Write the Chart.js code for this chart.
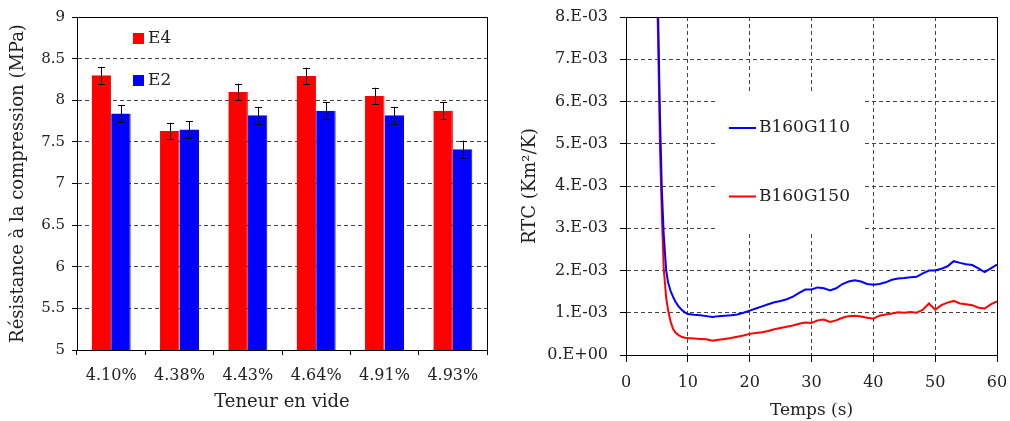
<!DOCTYPE html>
<html>
<head>
<meta charset="utf-8">
<script src="https://cdn.jsdelivr.net/npm/chart.js@4"></script>
<style>
  body { margin: 0; background: #fff; }
  #wrap { position: relative; width: 1010px; height: 421px; background: #fff; }
  canvas { position: absolute; top: 0; }
</style>
</head>
<body>
<div id="wrap">
  <canvas id="barChart" width="505" height="421" style="left:0"></canvas>
  <canvas id="lineChart" width="505" height="421" style="left:505px"></canvas>
</div>
<script>
// ---- left chart data ----
const voidContent = ["4.10%", "4.38%", "4.43%", "4.64%", "4.91%", "4.93%"];
const strengthE4 = [8.30, 7.63, 8.10, 8.29, 8.05, 7.875];
const strengthE2 = [7.84, 7.65, 7.82, 7.875, 7.82, 7.41];
const errorE4 = [0.10, 0.10, 0.10, 0.10, 0.10, 0.10];
const errorE2 = [0.10, 0.10, 0.10, 0.10, 0.10, 0.105];

// ---- right chart data (RTC in 1E-03 Km2/K) ----
const time = [4.9, 5.2, 5.5, 5.8, 6.1, 6.5, 6.8, 7.2, 7.6, 8.0, 8.5, 9.0, 9.5,
  10, 11, 12, 13, 14, 15, 16, 17, 18, 19, 20, 21, 22, 23, 24, 25, 26, 27, 28, 29,
  30, 31, 32, 33, 34, 35, 36, 37, 38, 39, 40, 41, 42, 43, 44, 45, 46, 47, 48, 49,
  50, 51, 52, 53, 54, 55, 56, 57, 58, 59, 60];
const rtcB160G110 = [9.5, 8.0, 5.6, 3.9, 2.85, 2.0, 1.72, 1.52, 1.38, 1.26, 1.15, 1.07, 1.01,
  0.97, 0.95, 0.94, 0.92, 0.90, 0.92, 0.93, 0.94, 0.96, 1.00, 1.05, 1.10, 1.15, 1.20, 1.25, 1.28, 1.32, 1.38, 1.47, 1.55,
  1.55, 1.60, 1.58, 1.53, 1.58, 1.68, 1.74, 1.77, 1.74, 1.68, 1.66, 1.68, 1.72, 1.78, 1.81, 1.82, 1.84, 1.85, 1.93, 2.00,
  2.00, 2.04, 2.10, 2.22, 2.18, 2.15, 2.13, 2.05, 1.96, 2.05, 2.14];
const rtcB160G150 = [9.5, 7.4, 4.9, 3.3, 2.05, 1.35, 1.07, 0.80, 0.62, 0.53, 0.47, 0.43, 0.41,
  0.40, 0.39, 0.38, 0.37, 0.34, 0.36, 0.38, 0.40, 0.43, 0.46, 0.50, 0.52, 0.54, 0.57, 0.61, 0.64, 0.67, 0.70, 0.74, 0.77,
  0.76, 0.82, 0.84, 0.78, 0.82, 0.88, 0.92, 0.93, 0.91, 0.88, 0.86, 0.93, 0.96, 0.98, 1.01, 1.00, 1.02, 1.00, 1.07, 1.22,
  1.07, 1.18, 1.24, 1.28, 1.22, 1.20, 1.18, 1.12, 1.10, 1.20, 1.27];

const FONT = "'DejaVu Serif', serif";
const TEXT = "#222";
const GRID = "#444";

// frame round the plot area
const framePlugin = {
  id: "frame",
  afterDatasetsDraw(chart) {
    const a = chart.chartArea;
    const ctx = chart.ctx;
    ctx.save();
    ctx.strokeStyle = "#000";
    ctx.lineWidth = 1;
    ctx.strokeRect(Math.round(a.left) + 0.5, Math.round(a.top) + 0.5,
      Math.round(a.right) - Math.round(a.left), Math.round(a.bottom) - Math.round(a.top));
    ctx.restore();
  }
};

// error bars on the bars
const errorBarPlugin = {
  id: "errorBars",
  afterDatasetsDraw(chart) {
    const ctx = chart.ctx;
    const yScale = chart.scales.y;
    ctx.save();
    ctx.strokeStyle = "#000";
    ctx.lineWidth = 1;
    chart.data.datasets.forEach((ds, di) => {
      const meta = chart.getDatasetMeta(di);
      meta.data.forEach((bar, i) => {
        const v = ds.data[i];
        const e = ds.errors[i];
        const x = Math.round(bar.x) + 0.5;
        const yTop = yScale.getPixelForValue(v + e);
        const yBot = yScale.getPixelForValue(v - e);
        ctx.beginPath();
        ctx.moveTo(x, yTop);
        ctx.lineTo(x, yBot);
        ctx.moveTo(x - 3.5, Math.round(yTop) + 0.5);
        ctx.lineTo(x + 3.5, Math.round(yTop) + 0.5);
        ctx.moveTo(x - 3.5, Math.round(yBot) + 0.5);
        ctx.lineTo(x + 3.5, Math.round(yBot) + 0.5);
        ctx.stroke();
      });
    });
    ctx.restore();
  }
};

// legend E4 / E2 inside the bar chart
const barLegendPlugin = {
  id: "barLegend",
  afterDraw(chart) {
    const ctx = chart.ctx;
    const a = chart.chartArea;
    ctx.save();
    ctx.font = "17px " + FONT;
    ctx.textBaseline = "middle";
    chart.data.datasets.forEach((ds, i) => {
      const y = a.top + 22 + i * 42;
      ctx.fillStyle = ds.backgroundColor;
      ctx.fillRect(a.left + 56, y - 6, 11, 11);
      ctx.fillStyle = TEXT;
      ctx.fillText(ds.label, a.left + 71, y);
    });
    ctx.restore();
  }
};

// legend for the RTC chart, white box over the grid
const lineLegendPlugin = {
  id: "lineLegend",
  afterDatasetsDraw(chart) {
    const ctx = chart.ctx;
    const a = chart.chartArea;
    const left = a.left + 92;
    ctx.save();
    ctx.fillStyle = "#fff";
    ctx.fillRect(left, a.top + 76, 144, 139);
    ctx.font = "17px " + FONT;
    ctx.textBaseline = "middle";
    chart.data.datasets.forEach((ds, i) => {
      const y = a.top + 111 + i * 68.5;
      ctx.strokeStyle = ds.borderColor;
      ctx.lineWidth = 2;
      ctx.beginPath();
      ctx.moveTo(left + 11, y);
      ctx.lineTo(left + 38, y);
      ctx.stroke();
      ctx.fillStyle = TEXT;
      ctx.fillText(ds.label, left + 41, y);
    });
    ctx.restore();
  }
};

// labels may hang outside the plot; keep the plot area where the layout padding puts it
function noPadding(scale) {
  scale.paddingLeft = 0;
  scale.paddingRight = 0;
  scale.paddingTop = 0;
  scale.paddingBottom = 0;
}

new Chart(document.getElementById("barChart"), {
  type: "bar",
  data: {
    labels: voidContent,
    datasets: [
      { label: "E4", data: strengthE4, errors: errorE4, backgroundColor: "#ff0000",
        borderColor: "#d00000", borderWidth: { left: 0, right: 1, top: 0, bottom: 0 } },
      { label: "E2", data: strengthE2, errors: errorE2, backgroundColor: "#0000ff",
        borderColor: "#0000c8", borderWidth: { left: 0, right: 1, top: 0, bottom: 0 } }
    ]
  },
  options: {
    responsive: false,
    animation: false,
    categoryPercentage: 0.57,
    barPercentage: 1.0,
    layout: { padding: { top: 17, right: 18, left: 0, bottom: 0 } },
    plugins: { legend: { display: false }, tooltip: { enabled: false } },
    scales: {
      x: {
        afterFit(scale) { scale.height = 71; noPadding(scale); },
        grid: { drawOnChartArea: false, tickLength: 5, color: "#000", offset: true },
        border: { color: "#000" },
        ticks: { color: TEXT, font: { family: FONT, size: 16 }, padding: 11, maxRotation: 0 },
        title: { display: true, text: "Teneur en vide", color: TEXT,
          font: { family: FONT, size: 18 }, padding: { top: 0, bottom: 8 } }
      },
      y: {
        min: 5, max: 9,
        afterFit(scale) { scale.width = 77; noPadding(scale); },
        ticks: { stepSize: 0.5, color: TEXT, font: { family: FONT, size: 15 }, padding: 7,
          callback: (v) => String(Math.round(v * 10) / 10) },
        grid: { color: GRID, tickColor: "#000", tickLength: 5 },
        border: { color: "#000", dash: [4, 3] },
        title: { display: true, text: "Résistance à la compression (MPa)", color: TEXT,
          font: { family: FONT, size: 18 }, padding: { top: 8, bottom: 0 } }
      }
    }
  },
  plugins: [framePlugin, errorBarPlugin, barLegendPlugin]
});

const E3 = 1e-3;
new Chart(document.getElementById("lineChart"), {
  type: "line",
  data: {
    datasets: [
      { label: "B160G110", data: time.map((t, i) => ({ x: t, y: rtcB160G110[i] * E3 })),
        borderColor: "#0000ff", borderWidth: 2, pointRadius: 0, tension: 0 },
      { label: "B160G150", data: time.map((t, i) => ({ x: t, y: rtcB160G150[i] * E3 })),
        borderColor: "#ff0000", borderWidth: 2, pointRadius: 0, tension: 0 }
    ]
  },
  options: {
    responsive: false,
    animation: false,
    layout: { padding: { top: 17, right: 13, left: 0, bottom: 0 } },
    plugins: { legend: { display: false }, tooltip: { enabled: false } },
    scales: {
      x: {
        type: "linear", min: 0, max: 60,
        afterFit(scale) { scale.height = 66; noPadding(scale); },
        ticks: { stepSize: 10, color: TEXT, font: { family: FONT, size: 16 }, padding: 11, maxRotation: 0 },
        grid: { color: GRID, tickColor: "#000", tickLength: 7 },
        border: { color: "#000", dash: [4, 3] },
        title: { display: true, text: "Temps (s)", color: TEXT,
          font: { family: FONT, size: 17 }, padding: { top: 0, bottom: 0 } }
      },
      y: {
        min: 0, max: 8 * E3,
        afterFit(scale) { scale.width = 121; noPadding(scale); },
        ticks: {
          stepSize: E3, color: TEXT, font: { family: FONT, size: 16 }, padding: 12,
          callback: (v) => {
            const n = Math.round(v / E3);
            return n === 0 ? "0.E+00" : n + ".E-03";
          }
        },
        grid: { color: GRID, tickColor: "#000", tickLength: 6 },
        border: { color: "#000", dash: [4, 3] },
        title: { display: true, text: "RTC (Km²/K)", color: TEXT,
          font: { family: FONT, size: 18 }, padding: { top: 15, bottom: 0 } }
      }
    }
  },
  plugins: [lineLegendPlugin, framePlugin]
});
</script>
</body>
</html>
